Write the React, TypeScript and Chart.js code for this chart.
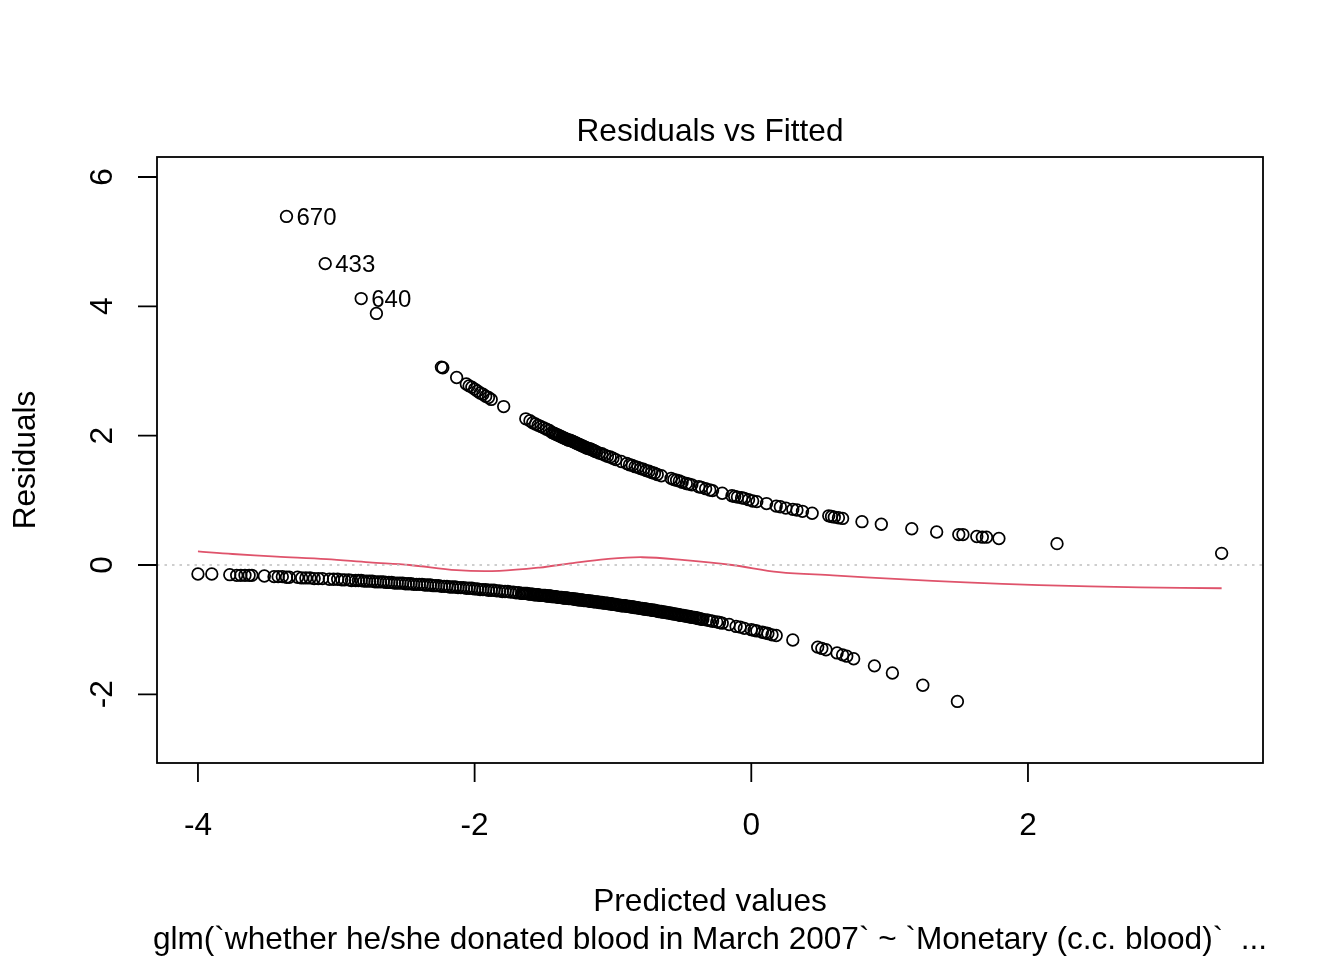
import React, { useEffect, useRef } from 'react';
import { Chart, registerables } from 'chart.js';

Chart.register(...registerables);

// ---- Data ----
// Upper branch (observations with residual > 0)
const upperX = [
  -3.36, -3.08, -2.82, -2.71, -2.24, -2.23, -2.13,
  -2.06, -2.04, -2.02, -2.00, -1.98, -1.96, -1.94, -1.92, -1.90, -1.88,
  -1.79, -1.63,
  -1.60, -1.58, -1.56, -1.54, -1.52, -1.50, -1.48, -1.46, -1.44,
  -1.43, -1.42, -1.41, -1.40, -1.39, -1.38, -1.37, -1.36, -1.35, -1.34,
  -1.33, -1.32, -1.31, -1.30, -1.29, -1.28, -1.27, -1.26, -1.25, -1.24,
  -1.23, -1.22, -1.21, -1.20, -1.19, -1.18, -1.17, -1.16, -1.15, -1.14, -1.13,
  -1.12, -1.10, -1.08, -1.06, -1.04, -1.02, -1.00, -0.98,
  -0.94, -0.90, -0.88, -0.86, -0.84, -0.82, -0.80, -0.78, -0.76, -0.74, -0.72, -0.70, -0.68, -0.65,
  -0.58, -0.56, -0.54, -0.52, -0.50, -0.47, -0.45, -0.43, -0.38, -0.36, -0.33, -0.30, -0.28, -0.21,
  -0.14, -0.12, -0.10, -0.07, -0.05, -0.02, 0.01, 0.04, 0.11, 0.18, 0.21, 0.25, 0.30, 0.33, 0.37, 0.44,
  0.56, 0.58, 0.60, 0.63, 0.66, 0.80, 0.94, 1.16, 1.34, 1.50, 1.53, 1.63, 1.67, 1.70, 1.79, 2.21, 3.40,
];
const upperY = [
  5.39, 4.66, 4.12, 3.89, 3.06, 3.05, 2.90,
  2.80, 2.77, 2.75, 2.72, 2.69, 2.66, 2.64, 2.61, 2.59, 2.56,
  2.45, 2.26,
  2.23, 2.20, 2.18, 2.16, 2.14, 2.12, 2.10, 2.08, 2.05,
  2.04, 2.03, 2.02, 2.01, 2.00, 1.99, 1.98, 1.97, 1.96, 1.95,
  1.94, 1.93, 1.93, 1.92, 1.91, 1.90, 1.89, 1.88, 1.87, 1.86,
  1.85, 1.84, 1.83, 1.82, 1.81, 1.80, 1.80, 1.79, 1.78, 1.77, 1.76,
  1.75, 1.73, 1.72, 1.70, 1.68, 1.67, 1.65, 1.63,
  1.60, 1.57, 1.55, 1.54, 1.52, 1.51, 1.49, 1.48, 1.46, 1.45, 1.43, 1.42, 1.40, 1.38,
  1.34, 1.32, 1.31, 1.30, 1.28, 1.26, 1.25, 1.24, 1.21, 1.20, 1.18, 1.16, 1.15, 1.11,
  1.07, 1.06, 1.05, 1.04, 1.03, 1.01, 0.99, 0.98, 0.95, 0.91, 0.90, 0.88, 0.86, 0.85, 0.83, 0.80,
  0.76, 0.75, 0.74, 0.73, 0.72, 0.67, 0.63, 0.56, 0.51, 0.47, 0.47, 0.44, 0.43, 0.43, 0.41, 0.33, 0.18,
];

// Lower branch (observations with residual < 0)
const lowerX = [
  -4.00, -3.90, -3.77, -3.72, -3.69, -3.66, -3.63, -3.61, -3.52, -3.45,
  -3.42, -3.39, -3.36, -3.34, -3.28, -3.25, -3.22, -3.19, -3.16, -3.13,
  -3.10, -3.05, -3.02, -2.99, -2.96, -2.94, -2.91, -2.89,
  -2.86, -2.84, -2.82, -2.80, -2.78, -2.76, -2.74, -2.72, -2.70, -2.68,
  -2.66, -2.64, -2.62, -2.60, -2.58, -2.56, -2.54, -2.52, -2.50, -2.48,
  -2.46, -2.44, -2.42, -2.40, -2.38, -2.36, -2.34, -2.32, -2.30, -2.28,
  -2.26, -2.24, -2.22, -2.20, -2.18, -2.16, -2.14, -2.12, -2.10, -2.08,
  -2.06, -2.04, -2.02, -2.00, -1.98, -1.96, -1.94, -1.92, -1.90, -1.88,
  -1.86, -1.84, -1.82, -1.80, -1.78, -1.76, -1.74, -1.72, -1.70, -1.68, -1.66,
  -1.65, -1.64, -1.63, -1.62, -1.61, -1.60, -1.59, -1.58, -1.57, -1.56,
  -1.55, -1.54, -1.53, -1.52, -1.51, -1.50, -1.49, -1.48, -1.47, -1.46,
  -1.45, -1.44, -1.43, -1.42, -1.41, -1.40, -1.39, -1.38, -1.37, -1.36,
  -1.35, -1.34, -1.33, -1.32, -1.31, -1.30, -1.29, -1.28, -1.27, -1.26,
  -1.25, -1.24, -1.23, -1.22, -1.21, -1.20, -1.19, -1.18, -1.17, -1.16,
  -1.15, -1.14, -1.13, -1.12, -1.11, -1.10, -1.09, -1.08, -1.07, -1.06,
  -1.05, -1.04, -1.03, -1.02, -1.01, -1.00, -0.99, -0.98, -0.97, -0.96,
  -0.95, -0.94, -0.93, -0.92, -0.91, -0.90, -0.89, -0.88, -0.87, -0.86,
  -0.85, -0.84, -0.83, -0.82, -0.81, -0.80, -0.79, -0.78, -0.77, -0.76,
  -0.75, -0.74, -0.73, -0.72, -0.71, -0.70, -0.69, -0.68, -0.67, -0.66,
  -0.65, -0.64, -0.63, -0.62, -0.61, -0.60, -0.59, -0.58, -0.57, -0.56,
  -0.55, -0.54, -0.53, -0.52, -0.51, -0.50, -0.49, -0.48, -0.47, -0.46,
  -0.45, -0.44, -0.43, -0.42, -0.41, -0.40, -0.39, -0.38, -0.37, -0.36,
  -0.35, -0.32, -0.30,
  -0.28, -0.25, -0.23, -0.21, -0.16, -0.11, -0.08, -0.05, 0.00, 0.02,
  0.04, 0.08, 0.10, 0.12, 0.15, 0.18, 0.30, 0.48, 0.51, 0.54,
  0.62, 0.66, 0.69, 0.74, 0.89, 1.02, 1.24, 1.49,
];
const lowerY = [
  -0.14, -0.14, -0.15, -0.16, -0.16, -0.16, -0.16, -0.16, -0.17, -0.18,
  -0.18, -0.18, -0.19, -0.19, -0.19, -0.20, -0.20, -0.20, -0.21, -0.21,
  -0.21, -0.22, -0.22, -0.22, -0.23, -0.23, -0.23, -0.24,
  -0.24, -0.24, -0.24, -0.25, -0.25, -0.25, -0.25, -0.26, -0.26, -0.26,
  -0.26, -0.27, -0.27, -0.27, -0.28, -0.28, -0.28, -0.28, -0.29, -0.29,
  -0.29, -0.30, -0.30, -0.30, -0.30, -0.31, -0.31, -0.31, -0.32, -0.32,
  -0.32, -0.33, -0.33, -0.33, -0.34, -0.34, -0.34, -0.35, -0.35, -0.35,
  -0.36, -0.36, -0.36, -0.37, -0.37, -0.38, -0.38, -0.38, -0.39, -0.39,
  -0.39, -0.40, -0.40, -0.41, -0.41, -0.41, -0.42, -0.42, -0.43, -0.43, -0.44,
  -0.44, -0.44, -0.44, -0.44, -0.45, -0.45, -0.45, -0.45, -0.46, -0.46,
  -0.46, -0.46, -0.47, -0.47, -0.47, -0.47, -0.47, -0.48, -0.48, -0.48,
  -0.48, -0.49, -0.49, -0.49, -0.49, -0.50, -0.50, -0.50, -0.50, -0.51,
  -0.51, -0.51, -0.51, -0.52, -0.52, -0.52, -0.52, -0.53, -0.53, -0.53,
  -0.54, -0.54, -0.54, -0.54, -0.55, -0.55, -0.55, -0.55, -0.56, -0.56,
  -0.56, -0.57, -0.57, -0.57, -0.57, -0.58, -0.58, -0.58, -0.59, -0.59,
  -0.59, -0.59, -0.60, -0.60, -0.60, -0.61, -0.61, -0.61, -0.62, -0.62,
  -0.62, -0.63, -0.63, -0.63, -0.63, -0.64, -0.64, -0.64, -0.65, -0.65,
  -0.65, -0.66, -0.66, -0.66, -0.67, -0.67, -0.67, -0.68, -0.68, -0.68,
  -0.69, -0.69, -0.69, -0.70, -0.70, -0.70, -0.71, -0.71, -0.72, -0.72,
  -0.72, -0.73, -0.73, -0.73, -0.74, -0.74, -0.74, -0.75, -0.75, -0.76,
  -0.76, -0.76, -0.77, -0.77, -0.78, -0.78, -0.78, -0.79, -0.79, -0.79,
  -0.80, -0.80, -0.81, -0.81, -0.81, -0.82, -0.82, -0.83, -0.83, -0.84,
  -0.84, -0.85, -0.86,
  -0.87, -0.88, -0.89, -0.90, -0.92, -0.95, -0.96, -0.98, -1.00, -1.01,
  -1.02, -1.04, -1.05, -1.06, -1.08, -1.09, -1.16, -1.27, -1.29, -1.31,
  -1.36, -1.39, -1.41, -1.45, -1.56, -1.67, -1.86, -2.11,
];

// Red smoother line
const smoothX = [-4.0, -3.75, -3.43, -3.07, -2.76, -2.47, -2.13, -1.82, -1.53, -1.29, -1.05, -0.79, -0.5, -0.14, 0.2, 0.59, 1.07, 1.55, 2.08, 2.81, 3.4];
const smoothY = [0.21, 0.17, 0.13, 0.09, 0.04, 0.0, -0.08, -0.09, -0.04, 0.03, 0.09, 0.12, 0.08, 0.0, -0.11, -0.16, -0.22, -0.27, -0.31, -0.345, -0.36];

// Labelled outliers
const labelIds = ['670', '433', '640'];
const labelX = [-3.36, -3.08, -2.82];
const labelY = [5.39, 4.66, 4.12];

// Axes
const xTicks = [-4, -2, 0, 2];
const yTicks = [-2, 0, 2, 4, 6];
const X_MIN = -4.296;
const X_MAX = 3.699;
const Y_MIN = -3.062;
const Y_MAX = 6.309;

const titleText = 'Residuals vs Fitted';
const xLabel = 'Predicted values';
const yLabel = 'Residuals';
const subCaption = 'glm(`whether he/she donated blood in March 2007` ~ `Monetary (c.c. blood)`  ...';

const FONT = '"Liberation Sans", Arial, Helvetica, sans-serif';

const rDecor = {
  id: 'rDecor',
  afterDraw(chart: any) {
    const { ctx, chartArea, scales } = chart;
    const { left, top, right, bottom } = chartArea;
    const xs = scales.x;
    const ys = scales.y;
    ctx.save();
    ctx.strokeStyle = '#000';
    ctx.lineWidth = 1.8;
    ctx.strokeRect(left, top, right - left, bottom - top);
    ctx.beginPath();
    xTicks.forEach((v) => {
      const p = xs.getPixelForValue(v);
      ctx.moveTo(p, bottom);
      ctx.lineTo(p, bottom + 19);
    });
    yTicks.forEach((v) => {
      const p = ys.getPixelForValue(v);
      ctx.moveTo(left, p);
      ctx.lineTo(left - 19, p);
    });
    ctx.stroke();

    ctx.fillStyle = '#000';
    ctx.font = `31.6px ${FONT}`;
    ctx.textAlign = 'center';
    ctx.textBaseline = 'alphabetic';
    xTicks.forEach((v) => ctx.fillText(String(v), xs.getPixelForValue(v), 835));
    yTicks.forEach((v) => {
      ctx.save();
      ctx.translate(112, ys.getPixelForValue(v));
      ctx.rotate(-Math.PI / 2);
      ctx.fillText(String(v), 0, 0);
      ctx.restore();
    });
    const cx = (left + right) / 2;
    ctx.fillText(titleText, cx, 141);
    ctx.fillText(xLabel, cx, 911);
    ctx.fillText(subCaption, cx, 949);
    ctx.save();
    ctx.translate(35, (top + bottom) / 2);
    ctx.rotate(-Math.PI / 2);
    ctx.fillText(yLabel, 0, 0);
    ctx.restore();

    ctx.font = `24px ${FONT}`;
    ctx.textAlign = 'left';
    labelIds.forEach((id, i) => {
      ctx.fillText(id, xs.getPixelForValue(labelX[i]) + 10, ys.getPixelForValue(labelY[i]) + 8.5);
    });
    ctx.restore();
  },
};

export default function App() {
  const ref = useRef<HTMLCanvasElement | null>(null);
  useEffect(() => {
    if (!ref.current) return;
    const points = [
      ...upperX.map((x, i) => ({ x, y: upperY[i] })),
      ...lowerX.map((x, i) => ({ x, y: lowerY[i] })),
    ];
    const chart = new Chart(ref.current, {
      type: 'scatter',
      data: {
        datasets: [
          {
            type: 'line',
            data: [{ x: X_MIN, y: 0 }, { x: X_MAX, y: 0 }],
            borderColor: '#BEBEBE',
            borderWidth: 1.5,
            borderDash: [2.5, 5],
            pointRadius: 0,
            order: 1,
          } as any,
          {
            type: 'line',
            data: smoothX.map((x, i) => ({ x, y: smoothY[i] })),
            borderColor: '#DF536B',
            borderWidth: 1.8,
            pointRadius: 0,
            tension: 0.35,
            order: 2,
          } as any,
          {
            type: 'scatter',
            data: points,
            pointStyle: 'circle',
            pointRadius: 5.8,
            borderWidth: 1.75,
            borderColor: '#000',
            backgroundColor: 'rgba(0,0,0,0)',
            order: 3,
          } as any,
        ],
      },
      options: {
        animation: false,
        responsive: false,
        events: [],
        layout: { padding: { left: 157, top: 157, right: 81, bottom: 197 } },
        plugins: { legend: { display: false }, tooltip: { enabled: false }, title: { display: false } },
        scales: {
          x: { type: 'linear', min: X_MIN, max: X_MAX, display: false },
          y: { type: 'linear', min: Y_MIN, max: Y_MAX, display: false },
        },
      },
      plugins: [rDecor],
    });
    return () => chart.destroy();
  }, []);
  return (
    <div style={{ position: 'absolute', left: 0, top: 0, width: 1344, height: 960, background: '#fff' }}>
      <canvas ref={ref} width={1344} height={960} style={{ width: 1344, height: 960 }} />
    </div>
  );
}
